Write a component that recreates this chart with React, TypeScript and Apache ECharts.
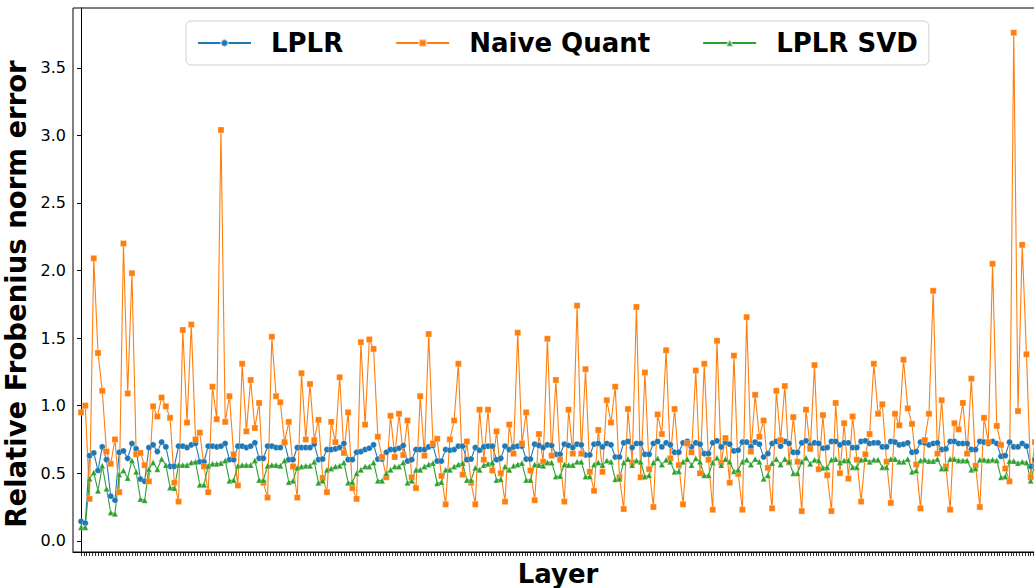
import React, { useEffect, useRef } from "react";
import * as echarts from "echarts";

const naiveQuant: number[] = [
  0.95, 1.0, 0.31, 2.09, 1.39, 1.11, 0.66, 0.57, 0.75, 0.36,
  2.2, 1.09, 1.98, 0.64, 0.65, 0.56, 0.44, 0.995, 0.92, 1.06,
  0.995, 0.91, 0.43, 0.29, 1.56, 0.875, 1.6, 0.75, 0.8, 0.55,
  0.36, 1.14, 0.9, 3.04, 0.88, 1.07, 0.64, 0.41, 1.31, 0.81,
  1.19, 0.835, 1.02, 0.43, 0.32, 1.51, 1.07, 1.025, 0.73, 0.88,
  0.55, 0.32, 1.24, 0.75, 1.16, 0.745, 0.895, 0.465, 0.36, 0.88,
  0.73, 1.21, 0.65, 0.95, 0.39, 0.31, 1.47, 0.86, 1.49, 1.42,
  0.77, 0.62, 0.47, 0.925, 0.62, 0.94, 0.635, 0.89, 0.47, 0.39,
  1.07, 0.63, 1.53, 0.72, 0.755, 0.48, 0.27, 0.75, 0.89, 1.31,
  0.49, 0.735, 0.43, 0.27, 0.97, 0.6, 0.97, 0.52, 0.81, 0.5,
  0.29, 0.86, 0.645, 1.54, 0.72, 0.95, 0.52, 0.3, 0.79, 0.585,
  1.495, 0.63, 1.19, 0.6, 0.29, 0.97, 0.645, 1.74, 0.645, 1.27,
  0.51, 0.37, 0.82, 0.51, 1.04, 0.875, 1.14, 0.47, 0.235, 0.975,
  0.58, 1.73, 0.47, 1.245, 0.53, 0.25, 0.935, 0.79, 1.41, 0.61,
  0.975, 0.56, 0.27, 0.72, 0.655, 1.26, 0.5, 1.31, 0.6, 0.23,
  1.48, 0.58, 0.76, 0.43, 1.37, 0.495, 0.23, 1.655, 0.66, 1.08,
  0.77, 0.89, 0.54, 0.24, 1.11, 0.745, 1.145, 0.58, 0.915, 0.585,
  0.22, 0.97, 0.68, 1.3, 0.53, 0.93, 0.485, 0.22, 1.02, 0.5,
  0.87, 0.46, 0.92, 0.6, 0.29, 0.64, 0.79, 1.31, 0.94, 1.01,
  0.585, 0.28, 0.94, 0.855, 1.34, 0.98, 0.865, 0.565, 0.24, 0.745,
  0.94, 1.85, 0.645, 1.04, 0.55, 0.23, 0.87, 0.825, 1.02, 0.645,
  1.2, 0.555, 0.25, 0.91, 0.73, 2.05, 0.85, 0.71, 0.535, 0.44,
  3.76, 0.96, 2.19, 1.38, 0.47, 0.73,
];

const lplr: number[] = [
  0.143, 0.13, 0.63, 0.65, 0.52, 0.695, 0.6,
  0.33, 0.3, 0.655, 0.665, 0.61, 0.72, 0.68,
  0.457, 0.44, 0.69, 0.71, 0.66, 0.73, 0.695,
  0.55, 0.55, 0.7, 0.7, 0.69, 0.71, 0.72,
  0.585, 0.585, 0.7, 0.7, 0.695, 0.7, 0.72,
  0.6, 0.6, 0.7, 0.7, 0.69, 0.7, 0.725,
  0.61, 0.61, 0.7, 0.7, 0.69, 0.69, 0.725,
  0.6, 0.6, 0.69, 0.69, 0.69, 0.69, 0.715,
  0.6, 0.605, 0.675, 0.675, 0.68, 0.69, 0.72,
  0.6, 0.6, 0.655, 0.66, 0.675, 0.685, 0.71,
  0.605, 0.605, 0.655, 0.675, 0.675, 0.685, 0.705,
  0.59, 0.6, 0.675, 0.675, 0.675, 0.695, 0.705,
  0.59, 0.59, 0.675, 0.67, 0.675, 0.7, 0.7,
  0.6, 0.605, 0.69, 0.67, 0.695, 0.7, 0.7,
  0.6, 0.61, 0.7, 0.675, 0.695, 0.7, 0.7,
  0.605, 0.605, 0.715, 0.705, 0.69, 0.71, 0.705,
  0.64, 0.64, 0.715, 0.705, 0.69, 0.715, 0.71,
  0.635, 0.635, 0.715, 0.72, 0.695, 0.72, 0.71,
  0.62, 0.62, 0.725, 0.735, 0.69, 0.72, 0.72,
  0.64, 0.64, 0.72, 0.735, 0.695, 0.725, 0.71,
  0.655, 0.655, 0.725, 0.735, 0.695, 0.725, 0.715,
  0.645, 0.645, 0.725, 0.74, 0.695, 0.73, 0.715,
  0.665, 0.67, 0.73, 0.73, 0.695, 0.73, 0.715,
  0.62, 0.645, 0.72, 0.735, 0.7, 0.735, 0.72,
  0.655, 0.655, 0.725, 0.74, 0.705, 0.725, 0.72,
  0.685, 0.69, 0.735, 0.735, 0.71, 0.725, 0.725,
  0.69, 0.69, 0.735, 0.74, 0.72, 0.725, 0.725,
  0.695, 0.695, 0.735, 0.73, 0.71, 0.715, 0.725,
  0.655, 0.66, 0.73, 0.725, 0.71, 0.72, 0.725,
  0.675, 0.68, 0.735, 0.735, 0.72, 0.72, 0.72,
  0.675, 0.675, 0.735, 0.73, 0.72, 0.735, 0.72,
  0.625, 0.63, 0.73, 0.695, 0.695, 0.72, 0.7,
  0.55, 0.6,
];

const lplrSvd: number[] = [
  0.1, 0.1, 0.46, 0.505, 0.37, 0.555, 0.385,
  0.21, 0.2, 0.49, 0.52, 0.465, 0.595, 0.51,
  0.31, 0.3, 0.53, 0.58, 0.53, 0.605, 0.56,
  0.395, 0.39, 0.56, 0.56, 0.56, 0.58, 0.585,
  0.415, 0.415, 0.555, 0.57, 0.57, 0.575, 0.595,
  0.445, 0.45, 0.555, 0.56, 0.56, 0.56, 0.595,
  0.45, 0.45, 0.555, 0.56, 0.56, 0.555, 0.595,
  0.435, 0.445, 0.54, 0.55, 0.555, 0.555, 0.585,
  0.43, 0.445, 0.525, 0.535, 0.55, 0.555, 0.58,
  0.43, 0.435, 0.5, 0.525, 0.55, 0.55, 0.58,
  0.445, 0.445, 0.5, 0.525, 0.55, 0.55, 0.58,
  0.43, 0.445, 0.525, 0.525, 0.55, 0.565, 0.575,
  0.425, 0.435, 0.525, 0.525, 0.55, 0.565, 0.575,
  0.45, 0.45, 0.54, 0.525, 0.56, 0.57, 0.58,
  0.45, 0.455, 0.55, 0.525, 0.555, 0.565, 0.575,
  0.45, 0.45, 0.565, 0.56, 0.555, 0.58, 0.58,
  0.475, 0.48, 0.565, 0.56, 0.56, 0.585, 0.585,
  0.475, 0.475, 0.565, 0.58, 0.56, 0.595, 0.585,
  0.455, 0.46, 0.58, 0.605, 0.56, 0.595, 0.585,
  0.475, 0.485, 0.58, 0.61, 0.565, 0.6, 0.585,
  0.51, 0.515, 0.585, 0.605, 0.56, 0.61, 0.585,
  0.485, 0.485, 0.58, 0.615, 0.56, 0.605, 0.585,
  0.515, 0.525, 0.585, 0.6, 0.565, 0.605, 0.585,
  0.46, 0.485, 0.575, 0.605, 0.565, 0.605, 0.585,
  0.5, 0.5, 0.585, 0.615, 0.57, 0.6, 0.595,
  0.54, 0.545, 0.6, 0.605, 0.58, 0.595, 0.595,
  0.545, 0.545, 0.6, 0.605, 0.585, 0.6, 0.6,
  0.545, 0.545, 0.605, 0.605, 0.585, 0.585, 0.605,
  0.51, 0.52, 0.595, 0.6, 0.59, 0.59, 0.605,
  0.535, 0.535, 0.605, 0.605, 0.595, 0.595, 0.595,
  0.525, 0.535, 0.6, 0.6, 0.595, 0.6, 0.595,
  0.47, 0.475, 0.59, 0.59, 0.575, 0.585, 0.58,
  0.445, 0.57,
];

const yTicks: number[] = [0, 0.5, 1.0, 1.5, 2.0, 2.5, 3.0, 3.5];
const seriesNames: string[] = ["LPLR", "Naive Quant", "LPLR SVD"];
// unlabeled x-axis tick marks, three for every two layers
const xTickStep = 2 / 3;
const xTicks: number[] = Array.from({ length: 341 }, (_, k) => k * xTickStep);

const FONT = "DejaVu Sans";

export default function App() {
  const ref = useRef<HTMLDivElement>(null);
  useEffect(() => {
    if (!ref.current) return;
    document.body.style.margin = "0";
    document.body.style.overflow = "hidden";
    const chart = echarts.init(ref.current, undefined, { renderer: "svg" });
    const toPairs = (arr: number[]) => arr.map((v, i) => [i, v]);
    chart.setOption({
      animation: false,
      backgroundColor: "#ffffff",
      grid: {
        left: 73,
        top: 8,
        width: 970,
        height: 544,
        containLabel: false,
        outerBoundsMode: "none",
        show: true,
        borderColor: "#000",
        borderWidth: 1,
        backgroundColor: "transparent",
      },
      legend: {
        left: 186,
        top: 21,
        data: seriesNames,
        itemWidth: 53,
        itemHeight: 9,
        itemGap: 52,
        padding: [9, 11, 9, 11],
        borderColor: "#d0d0d0",
        borderWidth: 1,
        borderRadius: 5,
        backgroundColor: "rgba(255,255,255,0.8)",
        textStyle: {
          fontFamily: FONT,
          fontSize: 26,
          fontWeight: "bold",
          color: "#000",
          padding: [0, 0, 0, 15],
        },
      },
      xAxis: {
        type: "value",
        min: -1.9,
        max: 226.9,
        name: "Layer",
        nameLocation: "middle",
        nameGap: 9,
        nameTextStyle: { fontFamily: FONT, fontSize: 26, fontWeight: "bold", color: "#000" },
        axisLine: { show: true, onZero: false, lineStyle: { color: "#000", width: 1 } },
        axisTick: {
          show: true,
          customValues: xTicks,
          length: 4,
          lineStyle: { color: "#000", width: 0.8 },
        },
        axisLabel: { show: false },
        splitLine: { show: false },
      },
      yAxis: {
        type: "value",
        min: -0.083,
        max: 3.943,
        name: "Relative Frobenius norm error",
        nameLocation: "middle",
        nameGap: 35,
        nameTextStyle: {
          fontFamily: FONT,
          fontSize: 27.5,
          fontWeight: "bold",
          color: "#000",
          padding: [0, 28, 0, 0],
        },
        axisLine: { show: true, lineStyle: { color: "#000", width: 1 } },
        axisTick: {
          show: true,
          customValues: yTicks,
          length: 4,
          lineStyle: { color: "#000", width: 1 },
        },
        axisLabel: {
          customValues: yTicks,
          formatter: (v: number) => v.toFixed(1),
          fontFamily: FONT,
          fontSize: 16,
          color: "#000",
          margin: 7,
        },
        splitLine: { show: false },
      },
      series: [
        {
          name: seriesNames[0],
          type: "line",
          data: toPairs(lplr),
          symbol: "circle",
          symbolSize: 6,
          showAllSymbol: true,
          color: "#1f77b4",
          lineStyle: { width: 1.1, color: "#1f77b4" },
          itemStyle: { color: "#1f77b4", borderColor: "rgba(255,255,255,0.5)", borderWidth: 0.5 },
        },
        {
          name: seriesNames[1],
          type: "line",
          data: toPairs(naiveQuant),
          symbol: "rect",
          symbolSize: 6,
          showAllSymbol: true,
          color: "#ff7f0e",
          lineStyle: { width: 1.1, color: "#ff7f0e" },
          itemStyle: { color: "#ff7f0e", borderColor: "rgba(255,255,255,0.5)", borderWidth: 0.5 },
        },
        {
          name: seriesNames[2],
          type: "line",
          data: toPairs(lplrSvd),
          symbol: "triangle",
          symbolSize: 6,
          showAllSymbol: true,
          color: "#2ca02c",
          lineStyle: { width: 1.1, color: "#2ca02c" },
          itemStyle: { color: "#2ca02c", borderColor: "rgba(255,255,255,0.5)", borderWidth: 0.5 },
        },
      ],
    });
    return () => chart.dispose();
  }, []);
  return (
    <div
      ref={ref}
      style={{ position: "fixed", left: 0, top: 0, width: 1044, height: 588, background: "#fff" }}
    />
  );
}
